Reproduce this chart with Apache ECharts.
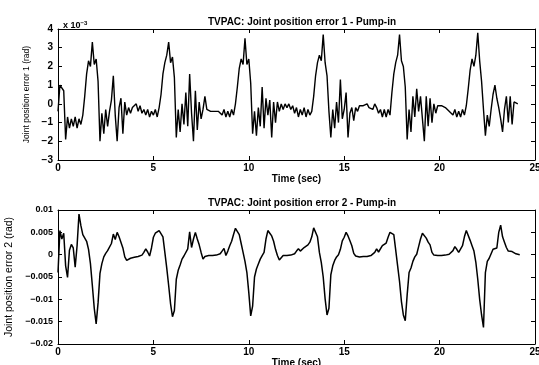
<!DOCTYPE html>
<html>
<head>
<meta charset="utf-8">
<script src="https://cdn.jsdelivr.net/npm/echarts@6/dist/echarts.min.js"></script>
<style>
  html, body { margin: 0; padding: 0; background: #fff; }
  #chart { width: 539px; height: 365px; }
</style>
</head>
<body>
<div id="chart"></div>
<script>
// Joint position errors of the TVPAC arm during the pump-in cycle, sampled every 0.1 s.
const sampleStep = 0.1; // seconds between samples

// Joint 1 error, in units of 1e-3 rad
const joint1Error = [
  -0.4, 1.0, 1.0, 0.7, -1.9, -0.7, -1.3, -0.8, -1.2, -0.7,
  -1.3, -0.8, -1.1, -0.6, 0.4, 1.6, 2.3, 2.0, 3.3, 2.1,
  2.4, 1.2, -2.0, -0.5, -1.6, -0.3, -1.2, -0.4, 0.2, 1.5,
  -0.6, -2.0, -0.2, 0.3, -1.6, 0.1, -0.6, -0.2, -0.5, -0.2,
  -0.3, 0.0, -0.4, -0.1, -0.5, -0.3, -0.6, -0.3, -0.7, -0.4,
  -0.6, -0.3, -0.7, -0.2, 0.5, 1.6, 2.2, 2.6, 3.3, 2.2,
  2.5, 1.4, -1.8, -0.3, -1.5, 0.0, -1.1, 0.6, -1.2, 1.6,
  -0.5, -2.0, 0.7, -1.4, 0.1, -0.8, -0.3, 0.4, -0.3, -0.2,
  -0.4, -0.3, -0.4, -0.3, -0.4, -0.3, -0.6, -0.3, -0.7, -0.4,
  -0.7, -0.3, -0.6, 0.0, 0.9, 1.9, 2.4, 2.1, 3.5, 2.1,
  2.4, 1.1, -1.6, -0.4, -1.7, -0.2, -1.2, 0.9, -1.3, 0.3,
  -0.6, 0.2, -1.8, 0.1, -1.0, 0.1, -0.4, 0.0, -0.3, 0.0,
  -0.2, 0.0, -0.3, -0.1, -0.5, -0.2, -0.7, -0.3, -0.6, -0.2,
  -0.7, -0.3, -0.6, -0.4, 0.4, 1.5, 2.2, 2.6, 2.3, 3.7,
  2.2, 1.5, -0.4, -1.8, -0.3, -1.3, 0.1, -1.0, 1.3, -0.8,
  -0.3, 0.6, -1.8, -0.5, -0.2, -0.9, -0.2, -0.4, -0.1, -0.2,
  -0.1, -0.2, 0.0, -0.2, -0.1, -0.3, 0.0, -0.2, -0.5, -0.3,
  -0.7, -0.3, -0.7, -0.3, -0.6, 0.6, 1.6, 2.2, 2.6, 3.7,
  2.3, 2.0, 0.9, -1.9, -0.3, -1.5, 0.4, -0.7, 0.8, -0.4,
  0.4, -0.8, -2.0, 0.4, -1.2, 0.3, -1.0, 0.0, -0.5, -0.1,
  -0.2, -0.1, -0.2, -0.2, -0.3, -0.4, -0.3, -0.6, -0.3, -0.7,
  -0.4, -0.7, -0.3, -0.6, -0.1, 0.8, 1.8, 2.4, 2.0, 2.6,
  3.8, 2.3, 1.2, -0.3, -1.7, -0.6, -1.2, -0.3, 0.5, 1.0,
  0.3, -0.2, -0.8, -1.5, -0.3, 0.4, -1.0, 0.4, -1.1, 0.1,
  0.0, 0.0
];

// Joint 2 error, in rad
const joint2Error = [
  -0.0040, 0.0054, 0.0035, 0.0048, -0.0025, -0.0051, 0.0010, 0.0023, 0.0015, -0.0028,
  0.0020, 0.0091, 0.0065, 0.0045, 0.0043, 0.0030, 0.0012, -0.0020, -0.0069, -0.0120,
  -0.0155, -0.0108, -0.0042, -0.0020, -0.0005, 0.0003, 0.0009, 0.0006, 0.0025, 0.0046,
  0.0034, 0.0050, 0.0040, 0.0036, 0.0015, -0.0005, -0.0013, -0.0010, -0.0008, -0.0007,
  -0.0006, -0.0005, -0.0004, -0.0003, -0.0001, 0.0005, 0.0013, 0.0006, -0.0003, 0.0015,
  0.0039, 0.0048, 0.0052, 0.0054, 0.0052, 0.0040, 0.0005, -0.0030, -0.0069, -0.0110,
  -0.0139, -0.0125, -0.0055, -0.0035, -0.0023, -0.0010, -0.0003, 0.0001, 0.0013, 0.0051,
  0.0016, 0.0035, 0.0050, 0.0035, 0.0022, 0.0005, -0.0010, -0.0004, -0.0003, -0.0002,
  -0.0002, -0.0002, -0.0001, -0.0001, -0.0001, 0.0002, 0.0008, 0.0014, -0.0002, 0.0008,
  0.0020, 0.0030, 0.0045, 0.0059, 0.0056, 0.0045, 0.0025, 0.0005, -0.0015, -0.0040,
  -0.0085, -0.0137, -0.0115, -0.0050, -0.0032, -0.0021, -0.0010, -0.0002, 0.0005, 0.0035,
  0.0054, 0.0048, 0.0042, 0.0030, 0.0012, -0.0002, -0.0012, -0.0008, -0.0002, -0.0002,
  -0.0002, -0.0001, -0.0001, 0.0000, 0.0002, 0.0008, 0.0013, 0.0008, 0.0005, 0.0016,
  0.0018, 0.0022, 0.0028, 0.0040, 0.0060, 0.0058, 0.0040, 0.0005, -0.0018, -0.0050,
  -0.0099, -0.0135, -0.0120, -0.0045, -0.0025, -0.0013, -0.0005, 0.0000, 0.0012, 0.0031,
  0.0039, 0.0050, 0.0042, 0.0031, 0.0020, 0.0003, -0.0003, -0.0006, -0.0005, -0.0005,
  -0.0004, -0.0004, -0.0004, -0.0003, -0.0002, -0.0002, 0.0005, 0.0013, 0.0006, 0.0008,
  0.0020, 0.0022, 0.0026, 0.0039, 0.0050, 0.0054, 0.0045, 0.0010, -0.0025, -0.0060,
  -0.0105, -0.0135, -0.0148, -0.0090, -0.0040, -0.0030, -0.0015, -0.0005, 0.0001, 0.0018,
  0.0035, 0.0048, 0.0048, 0.0037, 0.0028, 0.0022, 0.0005, -0.0001, -0.0002, -0.0002,
  -0.0002, -0.0002, -0.0002, -0.0001, 0.0000, 0.0001, 0.0004, 0.0009, 0.0018, 0.0012,
  0.0005, 0.0006, 0.0020, 0.0040, 0.0054, 0.0050, 0.0032, 0.0020, 0.0008, -0.0017,
  -0.0055, -0.0100, -0.0135, -0.0163, -0.0040, -0.0015, -0.0008, 0.0002, 0.0012, 0.0008,
  0.0015, 0.0050, 0.0066, 0.0040, 0.0028, 0.0016, 0.0008, 0.0005, 0.0007, 0.0004,
  0.0002, 0.0001, 0.0000
];

const timeTicks = [0, 5, 10, 15, 20, 25];
const joint1Ticks = [-3, -2, -1, 0, 1, 2, 3, 4];
const joint2Ticks = [-0.02, -0.015, -0.01, -0.005, 0, 0.005, 0.01];

const titles = [
  'TVPAC: Joint position error 1 - Pump-in',
  'TVPAC: Joint position error 2 - Pump-in'
];
const yNames = ['Joint position error 1 (rad)', 'Joint position error 2 (rad)'];
const xName = 'Time (sec)';

const toPairs = vals => vals.map((v, i) => [+(i * sampleStep).toFixed(2), v]);

const FONT = 'Liberation Sans, Arial, Helvetica, sans-serif';
const boldText = size => ({ color: '#000', fontFamily: FONT, fontWeight: 'bold', fontSize: size });
const fmtNum = v => String(+v.toFixed(4)).replace('-', '\u2212');

function xAxes(gridIndex) {
  const base = {
    type: 'value', gridIndex, min: timeTicks[0], max: timeTicks[timeTicks.length - 1],
    interval: timeTicks[1] - timeTicks[0],
    splitLine: { show: false },
    axisLine: { show: true, onZero: false, lineStyle: { color: '#000', width: 1 } },
    axisTick: { inside: true, length: 4, lineStyle: { color: '#000' } }
  };
  return [
    Object.assign({}, base, {
      position: 'bottom',
      axisLabel: Object.assign({ margin: 3, formatter: v => String(v) }, boldText(10)),
      name: xName, nameLocation: 'middle', nameGap: 12,
      nameTextStyle: boldText(10)
    }),
    Object.assign({}, base, { position: 'top', axisLabel: { show: false } })
  ];
}

function yAxes(gridIndex, ticks, labelSize, name, gap, nameSize) {
  const base = {
    type: 'value', gridIndex, min: ticks[0], max: ticks[ticks.length - 1],
    interval: +(ticks[1] - ticks[0]).toFixed(4),
    splitLine: { show: false },
    axisLine: { show: true, onZero: false, lineStyle: { color: '#000', width: 1 } },
    axisTick: { inside: true, length: 4, lineStyle: { color: '#000' } }
  };
  return [
    Object.assign({}, base, {
      position: 'left',
      axisLabel: Object.assign({ margin: 5, formatter: fmtNum }, boldText(labelSize)),
      name, nameLocation: 'middle', nameGap: gap, nameRotate: 90,
      nameTextStyle: { color: '#000', fontFamily: FONT, fontSize: nameSize }
    }),
    Object.assign({}, base, { position: 'right', axisLabel: { show: false } })
  ];
}

const chart = echarts.init(document.getElementById('chart'), null, { renderer: 'canvas' });

chart.setOption({
  animation: false,
  backgroundColor: '#fff',
  title: [
    { text: titles[0], left: 297, top: 12, textAlign: 'center', textStyle: boldText(10) },
    { text: titles[1], left: 297, top: 193, textAlign: 'center', textStyle: boldText(10) },
    { text: 'x 10{sup|\u22123}', left: 58, top: 15,
      textStyle: { color: '#000', fontFamily: FONT, fontWeight: 'bold', fontSize: 9,
        rich: { sup: { fontSize: 6, fontWeight: 'bold', fontFamily: FONT, verticalAlign: 'top', padding: [0, 0, 6, 0] } } } }
  ],
  grid: [
    { left: 58, right: 4, top: 29, bottom: 205, show: false, outerBoundsMode: 'none', containLabel: false },
    { left: 58, right: 4, top: 210, bottom: 21, show: false, outerBoundsMode: 'none', containLabel: false }
  ],
  xAxis: [...xAxes(0), ...xAxes(1)],
  yAxis: [
    ...yAxes(0, joint1Ticks, 10, yNames[0], 20, 8.5),
    ...yAxes(1, joint2Ticks, 9, yNames[1], 40, 10.5)
  ],
  series: [
    { type: 'line', xAxisIndex: 0, yAxisIndex: 0, data: toPairs(joint1Error),
      showSymbol: false, lineStyle: { color: '#000', width: 1.4 } },
    { type: 'line', xAxisIndex: 2, yAxisIndex: 2, data: toPairs(joint2Error),
      showSymbol: false, lineStyle: { color: '#000', width: 1.5 } }
  ]
});
</script>
</body>
</html>
